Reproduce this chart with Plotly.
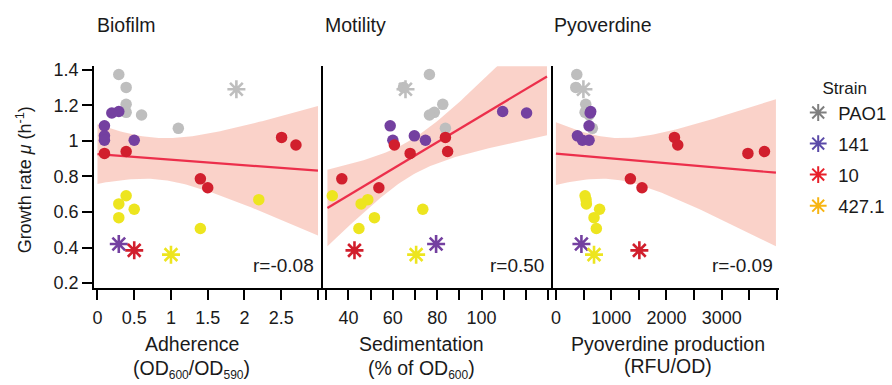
import numpy as np
import plotly.graph_objects as go

# ---- data -------------------------------------------------------------
strains = ["PAO1", "141", "10", "427.1"]

# growth rate of the six evolved lines of each strain (h^-1)
growth = {
    "PAO1": [1.373, 1.30, 1.205, 1.16, 1.145, 1.07],
    "141": [1.165, 1.156, 1.084, 1.028, 1.003, 1.003],
    "10": [1.019, 0.976, 0.94, 0.929, 0.786, 0.736],
    "427.1": [0.691, 0.669, 0.645, 0.615, 0.568, 0.507],
}
adherence = {
    "PAO1": [0.29, 0.39, 0.39, 0.39, 0.60, 1.10],
    "141": [0.29, 0.195, 0.095, 0.095, 0.095, 0.50],
    "10": [2.505, 2.70, 0.39, 0.095, 1.40, 1.50],
    "427.1": [0.39, 2.195, 0.29, 0.50, 0.29, 1.40],
}
sedimentation = {
    "PAO1": [76.5, 64.8, 82.5, 78.7, 76.5, 83.7],
    "141": [109.5, 120.3, 58.8, 69.7, 60.0, 74.7],
    "10": [83.7, 60.7, 84.7, 67.8, 37.0, 53.7],
    "427.1": [32.7, 48.7, 45.7, 73.5, 51.7, 44.7],
}
pyoverdine = {
    "PAO1": [377, 359, 539, 527, 600, 659],
    "141": [629, 620, 599, 389, 479, 599],
    "10": [2144, 2204, 3772, 3473, 1347, 1557],
    "427.1": [527, 545, 551, 790, 689, 731],
}

# ancestral strains
anc_growth = [1.29, 0.42, 0.384, 0.36]
anc_adherence = [1.89, 0.29, 0.50, 1.0]
anc_sedimentation = [65.7, 79.5, 42.7, 70.5]
anc_pyoverdine = [497, 461, 1509, 689]

panel_titles = ["Biofilm", "Motility", "Pyoverdine"]
r_labels = ["r=-0.08", "r=0.50", "r=-0.09"]

y_ticks = [0.2, 0.4, 0.6, 0.8, 1.0, 1.2, 1.4]
y_ticktext = ["0.2", "0.4", "0.6", "0.8", "1", "1.2", "1.4"]
x1_ticks = [0, 0.5, 1, 1.5, 2, 2.5, 3]
x1_ticktext = ["0", "0.5", "1", "1.5", "2", "2.5", ""]
x2_ticks = list(range(30, 131, 10))
x2_ticktext = ["", "40", "", "60", "", "80", "", "100", "", "", ""]
x3_ticks = list(range(0, 4001, 500))
x3_ticktext = ["0", "", "1000", "", "2000", "", "3000", "", ""]

# ---- styling ----------------------------------------------------------
point_colors = {"PAO1": "#BEBEBE", "141": "#7440A0", "10": "#D11F2D", "427.1": "#EDE51F"}
legend_colors = {"PAO1": "#7F7F7F", "141": "#5A4AA8", "10": "#E8202A", "427.1": "#F7B512"}
FIT_COLOR = "#EC2F4B"
BAND_COLOR = "rgba(246,165,148,0.5)"
FONT = "Liberation Sans, Arial, sans-serif"
TXT = "#1a1a1a"
W, H = 892, 385

def px_x(p):
    return p / W

def px_y(p):
    return 1 - p / H

def sub(t):
    return f"<sub><span style='font-size:12px'>{t}</span></sub>"

panels = [
    dict(data=adherence, anc=anc_adherence, rng=[-0.046, 3.045], fit=[0, 3],
         dom=[92.3, 320.0], ticks=x1_ticks, text=x1_ticktext),
    dict(data=sedimentation, anc=anc_sedimentation, rng=[28.5, 131.2], fit=[30.5, 129.5],
         dom=[321.7, 550.0], ticks=x2_ticks, text=x2_ticktext),
    dict(data=pyoverdine, anc=anc_pyoverdine, rng=[-52, 4040], fit=[0, 3980],
         dom=[552.3, 779.0], ticks=x3_ticks, text=x3_ticktext),
]
Y_RANGE = [0.1744, 1.4185]
Y_DOM = [px_y(290.7), px_y(62.3)]
T_CRIT = 2.0555  # t(0.975, df=26)

fig = go.Figure()

for i, p in enumerate(panels):
    xa = "x" if i == 0 else f"x{i+1}"
    ya = "y" if i == 0 else f"y{i+1}"

    # least-squares fit with 95% confidence band
    xs_all = np.array(sum((p["data"][s] for s in strains), []) + p["anc"], float)
    ys_all = np.array(sum((growth[s] for s in strains), []) + anc_growth, float)
    n = len(xs_all)
    slope, icpt = np.polyfit(xs_all, ys_all, 1)
    resid = ys_all - (slope * xs_all + icpt)
    se = np.sqrt(np.sum(resid ** 2) / (n - 2))
    xm = xs_all.mean()
    sxx = np.sum((xs_all - xm) ** 2)
    xg = np.linspace(p["fit"][0], p["fit"][1], 80)
    yg = slope * xg + icpt
    half = T_CRIT * se * np.sqrt(1 / n + (xg - xm) ** 2 / sxx)

    fig.add_trace(go.Scatter(
        x=np.concatenate([xg, xg[::-1]]), y=np.concatenate([yg + half, (yg - half)[::-1]]),
        fill="toself", fillcolor=BAND_COLOR, line=dict(width=0), mode="lines",
        hoverinfo="skip", showlegend=False, xaxis=xa, yaxis=ya))
    fig.add_trace(go.Scatter(
        x=xg, y=yg, mode="lines", line=dict(color=FIT_COLOR, width=2.2),
        showlegend=False, xaxis=xa, yaxis=ya))

    for s in strains:
        fig.add_trace(go.Scatter(
            x=p["data"][s], y=growth[s], mode="markers",
            marker=dict(size=11.5, color=point_colors[s], line=dict(width=0)),
            showlegend=False, xaxis=xa, yaxis=ya))
    for j, s in enumerate(strains):
        fig.add_trace(go.Scatter(
            x=[p["anc"][j]], y=[anc_growth[j]], mode="markers",
            marker=dict(symbol="asterisk-open", size=15, color=point_colors[s],
                        line=dict(width=2.6, color=point_colors[s])),
            showlegend=False, xaxis=xa, yaxis=ya))

    ax_common = dict(showline=True, linecolor="black", linewidth=2, ticks="outside",
                     ticklen=10, tickwidth=2, tickcolor="black", showgrid=False,
                     zeroline=False, tickfont=dict(family=FONT, size=18, color=TXT))
    fig.layout[("xaxis" if i == 0 else f"xaxis{i+1}")] = dict(
        domain=[px_x(p["dom"][0]), px_x(p["dom"][1])], range=p["rng"], anchor=ya,
        tickmode="array", tickvals=p["ticks"], ticktext=p["text"], ticklabelstandoff=3,
        **ax_common)
    yax = dict(domain=Y_DOM, range=Y_RANGE, anchor=xa, tickmode="array",
               tickvals=y_ticks, ticktext=y_ticktext, **ax_common)
    if i > 0:
        yax.update(ticks="", showticklabels=False)
    fig.layout[("yaxis" if i == 0 else f"yaxis{i+1}")] = yax

# legend entries
for s in strains:
    fig.add_trace(go.Scatter(
        x=[None], y=[None], mode="markers", name=s, legendgroup=s,
        marker=dict(symbol="asterisk-open", size=14, color=legend_colors[s],
                    line=dict(width=2, color=legend_colors[s]))))

ann = []
title_x = [93, 321.5, 551.5]
for i, t in enumerate(panel_titles):
    ann.append(dict(text=t, x=px_x(title_x[i]), y=px_y(20), xanchor="left", yanchor="middle",
                    font=dict(size=19.5, family=FONT, color=TXT)))
r_x = [315, 545, 775]
for i, t in enumerate(r_labels):
    ann.append(dict(text=t, x=px_x(r_x[i]), y=px_y(268), xanchor="right", yanchor="middle",
                    font=dict(size=19, family=FONT, color=TXT)))
xt1 = ["Adherence", "Sedimentation", "Pyoverdine production"]
xt2 = [f"(OD{sub('600')}/OD{sub('590')})", f"(% of OD{sub('600')})", "(RFU/OD)"]
xt2_y = [375, 375, 372]
xt_cx = [190, 420, 667]
for i in range(3):
    ann.append(dict(text=xt1[i], x=px_x(xt_cx[i]), y=px_y(349), xanchor="center", yanchor="middle",
                    font=dict(size=19.5, family=FONT, color=TXT)))
    ann.append(dict(text=xt2[i], x=px_x(xt_cx[i]), y=px_y(xt2_y[i]), xanchor="center", yanchor="middle",
                    font=dict(size=19.5, family=FONT, color=TXT)))
ann.append(dict(text="Growth rate <i>μ</i> (h<sup>-1</sup>)", x=px_x(22), y=px_y(179),
                textangle=-90, xanchor="center", yanchor="middle",
                font=dict(size=18, family=FONT, color=TXT)))
for a in ann:
    a.update(xref="paper", yref="paper", showarrow=False)

fig.update_layout(
    width=W, height=H, margin=dict(l=0, r=0, t=0, b=0),
    paper_bgcolor="white", plot_bgcolor="white",
    annotations=ann,
    legend=dict(x=px_x(798), y=px_y(68), xanchor="left", yanchor="top",
                title=dict(text="Strain", side="top center", font=dict(size=17, family=FONT, color=TXT)),
                font=dict(size=18.5, family=FONT, color=TXT), tracegroupgap=4,
                bgcolor="rgba(0,0,0,0)"),
)

fig.write_html("out.html")
